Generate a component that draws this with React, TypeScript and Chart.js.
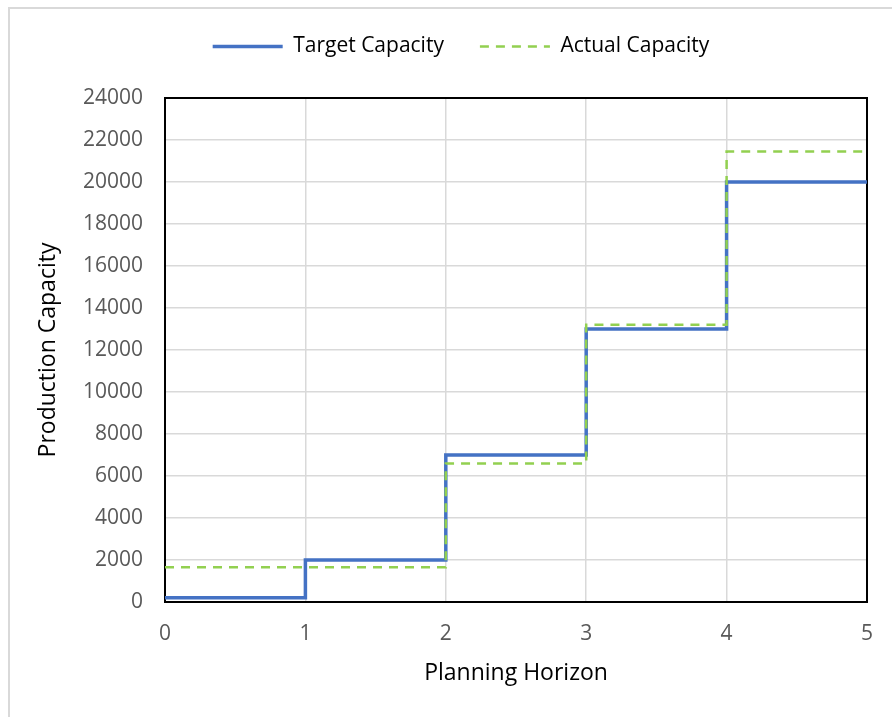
import React, { useEffect, useRef } from "react";
import { Chart, registerables } from "chart.js";

Chart.register(...registerables);

// ---- data ----
const horizon = [0, 1, 2, 3, 4, 5];
const targetCapacity = [200, 2000, 7000, 13000, 20000, 20000];
const actualCapacity = [1650, 1650, 6600, 13200, 21450, 21450];
const seriesNames = ["Target Capacity", "Actual Capacity"];
const xTitle = "Planning Horizon";
const yTitle = "Production Capacity";
const yMin = 0;
const yMax = 24000;
const yStep = 2000;
const xMin = 0;
const xMax = 5;
const xStep = 1;

const FONT = "'Open Sans', 'Noto Sans', sans-serif";
const LEGEND_HEIGHT = 98;

const legendFitPlugin = {
  id: "legendFit",
  afterInit(chart: any) {
    const lg = chart.legend;
    if (!lg) return;
    const orig = lg.fit;
    lg.fit = function () {
      orig.call(this);
      this.height = LEGEND_HEIGHT;
    };
  },
};

const framePlugin = {
  id: "frame",
  beforeDatasetsDraw(chart: any) {
    const { ctx, chartArea } = chart;
    const { left, top, right, bottom } = chartArea;
    ctx.save();
    ctx.strokeStyle = "#000";
    ctx.lineWidth = 2;
    ctx.strokeRect(left, top, right - left, bottom - top);
    ctx.restore();
  },
};

export default function App() {
  const ref = useRef<HTMLCanvasElement | null>(null);

  useEffect(() => {
    if (!ref.current) return;
    const toPoints = (vals: number[]) => horizon.map((x, i) => ({ x, y: vals[i] }));
    const chart = new Chart(ref.current, {
      type: "line",
      data: {
        datasets: [
          {
            label: seriesNames[0],
            data: toPoints(targetCapacity),
            borderColor: "#4472C4",
            backgroundColor: "#4472C4",
            borderWidth: 3.5,
            stepped: "before",
            pointRadius: 0,
            fill: false,
            order: 1,
          },
          {
            label: seriesNames[1],
            data: toPoints(actualCapacity),
            borderColor: "#92D050",
            backgroundColor: "#92D050",
            borderWidth: 2.5,
            borderDash: [9, 7],
            stepped: "before",
            pointRadius: 0,
            fill: false,
            order: 0,
          },
        ],
      },
      options: {
        animation: false,
        responsive: false,
        maintainAspectRatio: false,
        layout: { padding: { left: 31, right: 1, top: 0, bottom: 26 } },
        plugins: {
          tooltip: { enabled: false },
          legend: {
            position: "top",
            labels: {
              usePointStyle: true,
              pointStyle: "line",
              pointStyleWidth: 70,
              padding: 36,
              color: "#000",
              font: { family: FONT, size: 21 },
              sort: (a: any, b: any) => a.datasetIndex - b.datasetIndex,
              generateLabels: (ch: any) => {
                const items = Chart.defaults.plugins.legend.labels.generateLabels(ch);
                return items.map((it: any) => {
                  const ds = ch.data.datasets[it.datasetIndex];
                  return {
                    ...it,
                    lineWidth: ds.borderWidth,
                    lineDash: ds.borderDash || [],
                    strokeStyle: ds.borderColor,
                    fillStyle: ds.borderColor,
                    pointStyle: "line",
                  };
                });
              },
            },
          },
        },
        scales: {
          x: {
            type: "linear",
            min: xMin,
            max: xMax,
            ticks: {
              stepSize: xStep,
              color: "#595959",
              font: { family: FONT, size: 21 },
              padding: 19,
            },
            grid: { color: "#d9d9d9", lineWidth: 1.5, drawTicks: false },
            border: { display: false },
            title: {
              display: true,
              text: xTitle,
              color: "#000",
              font: { family: FONT, size: 23 },
              padding: { top: 4, bottom: 4 },
            },
            afterFit: (s: any) => {
              s.height = 89;
            },
          },
          y: {
            type: "linear",
            min: yMin,
            max: yMax,
            ticks: {
              stepSize: yStep,
              color: "#595959",
              font: { family: FONT, size: 21 },
              padding: 22,
              callback: (v: any) => String(v),
            },
            grid: { color: "#d9d9d9", lineWidth: 1.5, drawTicks: false },
            border: { display: false },
            title: {
              display: true,
              text: yTitle,
              color: "#000",
              font: { family: FONT, size: 23 },
              padding: { top: 4, bottom: 4 },
            },
            afterFit: (s: any) => {
              s.width = 134;
            },
          },
          y2: {
            type: "linear",
            position: "right",
            min: yMin,
            max: yMax,
            ticks: { display: false },
            grid: { display: false, drawTicks: false },
            border: { display: false },
            afterFit: (s: any) => {
              s.width = 21;
            },
          },
        },
      },
      plugins: [legendFitPlugin, framePlugin],
    } as any);
    return () => chart.destroy();
  }, []);

  return (
    <div
      style={{
        position: "fixed",
        left: 0,
        top: 0,
        width: 892,
        height: 717,
        background: "#fff",
        overflow: "hidden",
      }}
    >
      <div
        style={{
          position: "absolute",
          left: 8,
          top: 7,
          width: 900,
          height: 720,
          borderLeft: "2px solid #d9d9d9",
          borderTop: "2px solid #d9d9d9",
        }}
      />
      <canvas
        ref={ref}
        width={892}
        height={717}
        style={{ position: "absolute", left: 0, top: 0, width: 892, height: 717 }}
      />
    </div>
  );
}
